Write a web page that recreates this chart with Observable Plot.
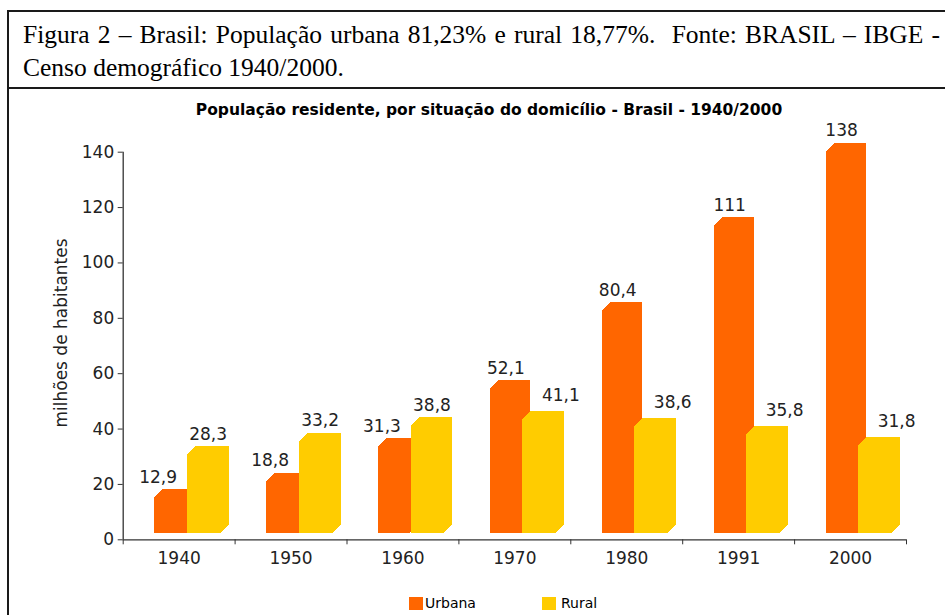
<!DOCTYPE html>
<html>
<head>
<meta charset="utf-8">
<script src="https://cdn.jsdelivr.net/npm/d3@7"></script>
<script src="https://cdn.jsdelivr.net/npm/@observablehq/plot@0.6"></script>
<style>
  html, body { margin: 0; padding: 0; background: #fff; }
  body { position: relative; width: 945px; height: 615px; overflow: hidden; font-family: "DejaVu Sans", sans-serif; }
  .capbox { position: absolute; left: 7px; top: 10px; width: 1000px; height: 75px; border: 2px solid #1a1a1a; border-right: none; }
  .chartbox { position: absolute; left: 7px; top: 89px; height: 600px; border-left: 2px solid #1a1a1a; }
  .cap { position: absolute; left: 23px; font-family: "Liberation Serif", serif; font-size: 25.5px; line-height: 33px; color: #000; }
  .l1 { top: 18px; width: 917px; text-align: justify; text-align-last: justify; }
  .l2 { top: 51px; white-space: nowrap; }
  .title { position: absolute; left: 0; width: 978px; top: 101px; text-align: center; font-weight: bold; font-size: 15.5px; color: #000; white-space: nowrap; }
  #chart { position: absolute; left: 0; top: 90px; }
  .legend { position: absolute; top: 595px; left: 0; font-size: 14px; color: #000; }
  .legend .sw { position: absolute; top: 2px; width: 14px; height: 13px; }
  .legend .lb { position: absolute; top: 0; white-space: nowrap; line-height: 17px; }
</style>
</head>
<body>
<div class="capbox"></div>
<div class="chartbox"></div>
<div class="cap l1">Figura 2 – Brasil: População urbana 81,23% e rural 18,77%.&nbsp; Fonte: BRASIL – IBGE -</div>
<div class="cap l2">Censo demográfico 1940/2000.</div>
<div class="title">População residente, por situação do domicílio - Brasil - 1940/2000</div>
<div id="chart"></div>
<div class="legend">
  <div class="sw" style="left:409px;background:#FF6600"></div>
  <div class="lb" style="left:425px">Urbana</div>
  <div class="sw" style="left:542px;background:#FFCC00"></div>
  <div class="lb" style="left:561px">Rural</div>
</div>
<script>
const years = ["1940", "1950", "1960", "1970", "1980", "1991", "2000"];
const urbana = [12.9, 18.8, 31.3, 52.1, 80.4, 111, 138];
const rural = [28.3, 33.2, 38.8, 41.1, 38.6, 35.8, 31.8];
const yTicks = [0, 20, 40, 60, 80, 100, 120, 140];
const yLabel = "milhões de habitantes";

const ORANGE = "#FF6600";
const YELLOW = "#FFCC00";
const DEPTH = 8;
const LIFT = 6.6;
const INK = "#222";

const data = years.map((year, i) => ({ i, year, urbana: urbana[i], rural: rural[i] }));
const fmt = v => String(v).replace(".", ",");
const layers = d3.range(0, DEPTH + 1);

const barLayers = (key, fill, insetLeft, insetRight) => layers.map(k =>
  Plot.rect(data, {
    x1: "i", x2: d => d.i + 1, y1: 0, y2: key,
    fill, insetLeft, insetRight, dx: k, dy: -LIFT - k, shapeRendering: "crispEdges"
  })
);

const plot = Plot.plot({
  width: 945,
  height: 500,
  marginLeft: 122.7,
  marginRight: 39,
  marginTop: 61.7,
  marginBottom: 50.7,
  style: { fontFamily: "DejaVu Sans", fontSize: "17px", color: INK, background: "transparent" },
  x: { domain: [0, years.length], label: null },
  y: { domain: [0, 140], label: null },
  marks: [
    ...barLayers("urbana", ORANGE, 31.6, 48),
    ...barLayers("rural", YELLOW, 64, 14),
    Plot.ruleY([0], { stroke: "#333", strokeWidth: 1.3 }),
    Plot.ruleX([0], { stroke: "#333", strokeWidth: 1.3 }),
    Plot.axisY({ ticks: yTicks, tickSize: 5, tickPadding: 4, fontSize: 17, stroke: "#333", fill: INK, label: null }),
    Plot.text([yLabel], { text: d => d, frameAnchor: "left", textAnchor: "middle", rotate: -90, dx: -61.5, dy: -13, fontSize: 17, fill: INK }),
    Plot.axisX({ ticks: d3.range(0, years.length + 1), tickSize: 5, tickFormat: () => "", stroke: "#333", label: null }),
    Plot.axisX({
      ticks: years.map((_, i) => i + 0.5), tickSize: 0, tickPadding: 12, fontSize: 17, fill: INK,
      tickFormat: t => years[Math.floor(t)], label: null
    }),
    Plot.text(data.filter(d => d.urbana >= d.rural), { x: d => d.i + 0.5, y: "urbana", text: d => fmt(d.urbana), dx: -9, dy: -27, fontSize: 17, fill: INK }),
    Plot.text(data.filter(d => d.urbana < d.rural), { x: d => d.i + 0.5, y: "urbana", text: d => fmt(d.urbana), dx: -21, dy: -27, fontSize: 17, fill: INK }),
    Plot.text(data.filter(d => d.rural > d.urbana), { x: d => d.i + 0.5, y: "rural", text: d => fmt(d.rural), dx: 29, dy: -27, fontSize: 17, fill: INK }),
    Plot.text(data.filter(d => d.rural <= d.urbana), { x: d => d.i + 0.5, y: "rural", text: d => fmt(d.rural), dx: 46, dy: -30, fontSize: 17, fill: INK })
  ]
});
document.getElementById("chart").appendChild(plot);
</script>
</body>
</html>
